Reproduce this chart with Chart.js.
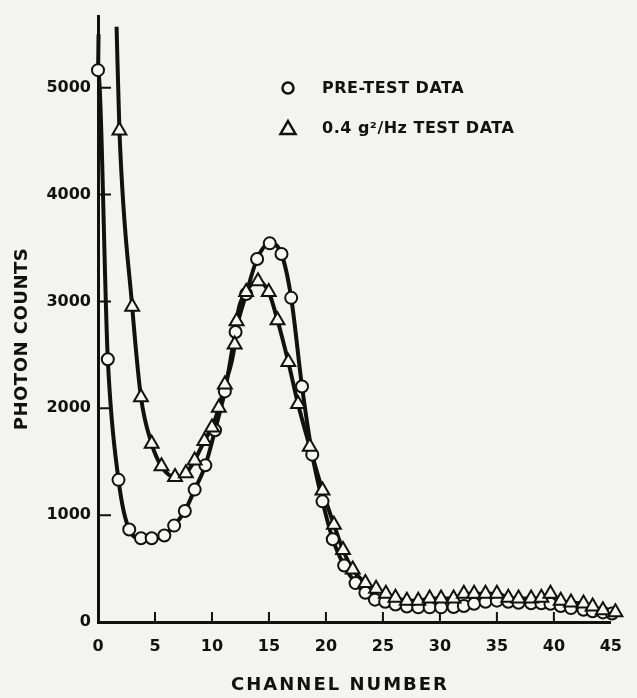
<!DOCTYPE html>
<html>
<head>
<meta charset="utf-8">
<script src="https://cdn.jsdelivr.net/npm/chart.js@4.4.1/dist/chart.umd.min.js"></script>
<style>
  html, body { margin: 0; padding: 0; background: #f3f3f1; }
  #wrap { width: 637px; height: 698px; }
</style>
</head>
<body>
<div id="wrap"><canvas id="chart" width="637" height="698"></canvas></div>
<script>
// pre-test data (circles); first entry is the top end of the drawn curve, no marker
const preChannel = [0.05, 0, 0.86, 1.8, 2.74, 3.77, 4.71, 5.82, 6.68, 7.62, 8.48, 9.42, 10.27, 11.13,
  12.07, 13.0, 13.96, 15.07, 16.1, 16.95, 17.9, 18.8, 19.7, 20.6, 21.6, 22.6, 23.46, 24.3, 25.2,
  26.1, 27.1, 28.1, 29.1, 30.1, 31.2, 32.1, 33.0, 34.0, 35.0, 36.0, 36.9, 38.0, 38.9, 39.7, 40.6,
  41.5, 42.6, 43.4, 44.3, 45.1];
const preCounts = [5500, 5164, 2459, 1330, 865, 783, 783, 810, 902, 1038, 1239, 1466, 1794, 2158,
  2714, 3069, 3397, 3543, 3443, 3033, 2204, 1566, 1129, 774, 528, 364, 273, 209, 190,
  164, 145, 137, 137, 137, 140, 150, 170, 190, 200, 190, 180, 175, 175, 170, 150,
  130, 115, 100, 90, 80];

// 0.4 g^2/Hz test data (triangles); first entry is the top end of the drawn curve
const testChannel = [1.63, 1.88, 3.0, 3.77, 4.71, 5.57, 6.76, 7.71, 8.48, 9.33, 10.0, 10.6, 11.13,
  11.99, 12.16, 13.0, 14.04, 14.98, 15.75, 16.7, 17.55, 18.58, 19.7, 20.7, 21.5, 22.35, 23.46,
  24.4, 25.26, 26.1, 27.1, 28.1, 29.1, 30.1, 31.2, 32.1, 33.0, 34.0, 35.0, 36.0, 36.9, 38.0,
  38.9, 39.7, 40.6, 41.5, 42.6, 43.4, 44.3, 45.4];
const testCounts = [5570, 4599, 2951, 2104, 1667, 1457, 1357, 1393, 1512, 1694, 1821, 2004, 2222,
  2596, 2814, 3087, 3188, 3087, 2823, 2432, 2040, 1639, 1230, 911, 674, 492, 364,
  310, 264, 228, 200, 200, 219, 219, 219, 264, 264, 264, 264, 228, 219, 219,
  228, 264, 200, 182, 173, 146, 109, 91];

const xTicks = [0, 5, 10, 15, 20, 25, 30, 35, 40, 45];
const yTicks = [0, 1000, 2000, 3000, 4000, 5000];

const legendLabels = ['PRE-TEST DATA', '0.4 g\u00B2/Hz TEST DATA'];
const xTitle = 'CHANNEL NUMBER';
const yTitle = 'PHOTON COUNTS';

const ink = '#111';
const font = 'DejaVu Sans';

const toPoints = (xs, ys) => xs.map((v, i) => ({ x: v, y: ys[i] }));
const prePts = toPoints(preChannel, preCounts);
const testPts = toPoints(testChannel, testCounts);

const noFirst = r => ctx => (ctx.dataIndex === 0 ? 0 : r);

const paper = {
  id: 'paper',
  beforeDraw(chart) {
    const { ctx, width, height } = chart;
    ctx.save();
    ctx.fillStyle = '#f3f3f1';
    ctx.fillRect(0, 0, width, height);
    ctx.restore();
  }
};

// tick marks point into the plot, as on the original
const innerTicks = {
  id: 'innerTicks',
  beforeDatasetsDraw(chart) {
    const { ctx, scales: { x, y } } = chart;
    ctx.save();
    ctx.strokeStyle = ink;
    ctx.lineWidth = 2;
    ctx.beginPath();
    yTicks.forEach(v => {
      if (!v) return;
      const py = y.getPixelForValue(v);
      ctx.moveTo(x.left, py);
      ctx.lineTo(x.left + 13, py);
    });
    xTicks.forEach(v => {
      if (!v || v === 45) return;
      const px = x.getPixelForValue(v);
      ctx.moveTo(px, y.bottom);
      ctx.lineTo(px, y.bottom - 10);
    });
    ctx.stroke();
    ctx.restore();
  }
};

const labels = {
  id: 'labels',
  afterDraw(chart) {
    const { ctx } = chart;
    ctx.save();
    ctx.fillStyle = ink;
    ctx.strokeStyle = ink;
    ctx.textBaseline = 'middle';

    // axis titles
    ctx.font = 'bold 18px "' + font + '"';
    ctx.letterSpacing = '2px';
    ctx.textAlign = 'center';
    ctx.fillText(xTitle, 340, 685);
    ctx.letterSpacing = '0.5px';
    ctx.translate(22, 339);
    ctx.rotate(-Math.PI / 2);
    ctx.fillText(yTitle, 0, 0);
    ctx.setTransform(1, 0, 0, 1, 0, 0);

    // legend
    ctx.letterSpacing = '0.5px';
    ctx.font = 'bold 16px "' + font + '"';
    ctx.textAlign = 'left';
    ctx.lineWidth = 2.5;
    ctx.beginPath();
    ctx.arc(288, 88, 5.5, 0, Math.PI * 2);
    ctx.stroke();
    ctx.beginPath();
    ctx.moveTo(288, 121);
    ctx.lineTo(295.5, 134);
    ctx.lineTo(280.5, 134);
    ctx.closePath();
    ctx.stroke();
    ctx.fillText(legendLabels[0], 322, 89);
    ctx.fillText(legendLabels[1], 322, 129);
    ctx.restore();
  }
};

new Chart(document.getElementById('chart').getContext('2d'), {
  type: 'scatter',
  data: {
    datasets: [
      {
        label: legendLabels[1],
        data: testPts,
        showLine: false,
        pointStyle: 'triangle',
        pointRadius: noFirst(8),
        pointBackgroundColor: '#f7f7f5',
        pointBorderColor: ink,
        pointBorderWidth: 2,
        clip: false,
        order: 1,
      },
      {
        label: legendLabels[0],
        data: prePts,
        showLine: false,
        pointStyle: 'circle',
        pointRadius: noFirst(6),
        pointBackgroundColor: '#f7f7f5',
        pointBorderColor: ink,
        pointBorderWidth: 2,
        clip: false,
        order: 2,
      },
      {
        data: testPts,
        showLine: true,
        pointRadius: 0,
        borderColor: ink,
        borderWidth: 4,
        cubicInterpolationMode: 'monotone',
        clip: false,
        order: 3,
      },
      {
        data: prePts,
        showLine: true,
        pointRadius: 0,
        borderColor: ink,
        borderWidth: 4,
        cubicInterpolationMode: 'monotone',
        clip: false,
        order: 4,
      },
    ],
  },
  options: {
    responsive: false,
    animation: false,
    layout: { padding: { left: 0, right: 13, top: 0, bottom: 0 } },
    plugins: { legend: { display: false }, tooltip: { enabled: false } },
    scales: {
      x: {
        type: 'linear',
        min: 0,
        max: 45,
        afterFit: s => { s.height = 76; },
        afterBuildTicks: s => { s.ticks = xTicks.map(v => ({ value: v })); },
        grid: { display: false, drawTicks: false },
        border: { display: true, color: ink, width: 3 },
        ticks: { color: ink, padding: 15, font: { family: font, weight: 'bold', size: 16 },
          callback: v => String(v) },
      },
      y: {
        type: 'linear',
        min: 0,
        max: 5665,
        afterFit: s => { s.width = 98; },
        afterBuildTicks: s => { s.ticks = yTicks.map(v => ({ value: v })); },
        grid: { display: false, drawTicks: false },
        border: { display: true, color: ink, width: 3 },
        ticks: { color: ink, padding: 7, font: { family: font, weight: 'bold', size: 16 },
          callback: v => String(v) },
      },
    },
  },
  plugins: [paper, innerTicks, labels],
});
</script>
</body>
</html>
